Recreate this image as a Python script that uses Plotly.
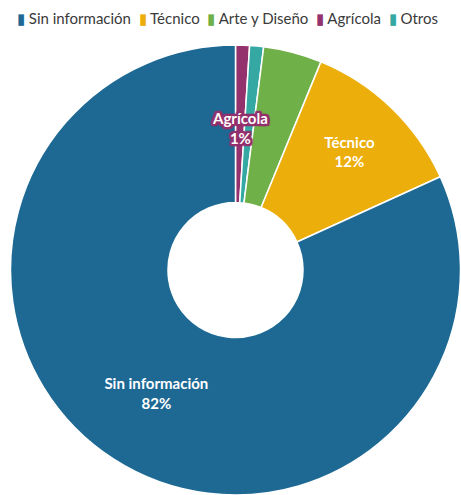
import math
import plotly.graph_objects as go

# Data (slice order, clockwise from top)
labels = ["Agrícola", "Otros", "Arte y Diseño", "Técnico", "Sin información"]
values = [1.0, 1.0, 4.2, 12.0, 81.8]
colors = ["#94326e", "#35a8a4", "#70b048", "#ecae0a", "#1d6994"]
inside_label = [False, False, False, True, True]
outlined_label = "Agrícola"

# Legend order
legend_labels = ["Sin información", "Técnico", "Arte y Diseño", "Agrícola", "Otros"]
color_map = dict(zip(labels, colors))

W, H = 461, 495
ML, MR, MT, MB = 10, 0, 45, 0
HOLE = 0.3
FONT = "Lato"

tpl = "<b>%{label}</b><br><b>%{percent:.0%}</b>"
texttemplates = [tpl if s else "" for s in inside_label]

fig = go.Figure()
fig.add_trace(go.Pie(
    labels=labels,
    values=values,
    hole=HOLE,
    sort=False,
    direction="clockwise",
    rotation=0,
    marker=dict(colors=colors, line=dict(color="white", width=1.5)),
    texttemplate=texttemplates,
    textposition="inside",
    insidetextorientation="horizontal",
    textfont=dict(family=FONT, size=15, color="white"),
    showlegend=False,
))

# Outlined label for the small slice, placed at its mid-angle
pw, ph = W - ML - MR, H - MT - MB
R = min(pw, ph) / 2
cx, cy = ML + pw / 2, MT + ph / 2
total = sum(values)
idx = labels.index(outlined_label)
mid = (sum(values[:idx]) + values[idx] / 2) / total
theta = 2 * math.pi * mid
rr = 0.97 * (HOLE * R + R) / 2
xp = cx + rr * math.sin(theta)
yp = cy - rr * math.cos(theta)
c = color_map[outlined_label]
shadow = ", ".join(f"{c} {dx}px {dy}px 1px" for dx in (-2, -1, 0, 1, 2) for dy in (-2, -1, 0, 1, 2))
pct = round(values[idx] / total * 100)
fig.add_annotation(
    x=(xp - ML) / pw, y=1 - (yp - MT) / ph, xref="paper", yref="paper",
    text=f"<b>{outlined_label}</b><br><b>{pct}%</b>",
    showarrow=False, xanchor="center", yanchor="middle",
    font=dict(family=FONT, size=15, color="white", shadow=shadow),
)

# Compact legend line
parts = []
for lab in legend_labels:
    parts.append(f'<span style="color:{color_map[lab]}">▮</span> {lab}')
legend_text = "&nbsp;&nbsp;".join(parts)
fig.add_annotation(
    x=(15 - ML) / pw, y=1 + (MT - 18) / ph, xref="paper", yref="paper",
    text=legend_text, showarrow=False, xanchor="left", yanchor="middle",
    font=dict(family=FONT, size=15, color="#3a3a3a"),
)

fig.update_layout(
    width=W,
    height=H,
    margin=dict(l=ML, r=MR, t=MT, b=MB),
    paper_bgcolor="white",
    plot_bgcolor="white",
    font=dict(family=FONT, color="#333333"),
    showlegend=False,
)

fig.write_html(
    "out.html",
    config={"displayModeBar": False},
    post_script="document.body.style.margin='0';document.body.style.overflow='hidden';",
)
